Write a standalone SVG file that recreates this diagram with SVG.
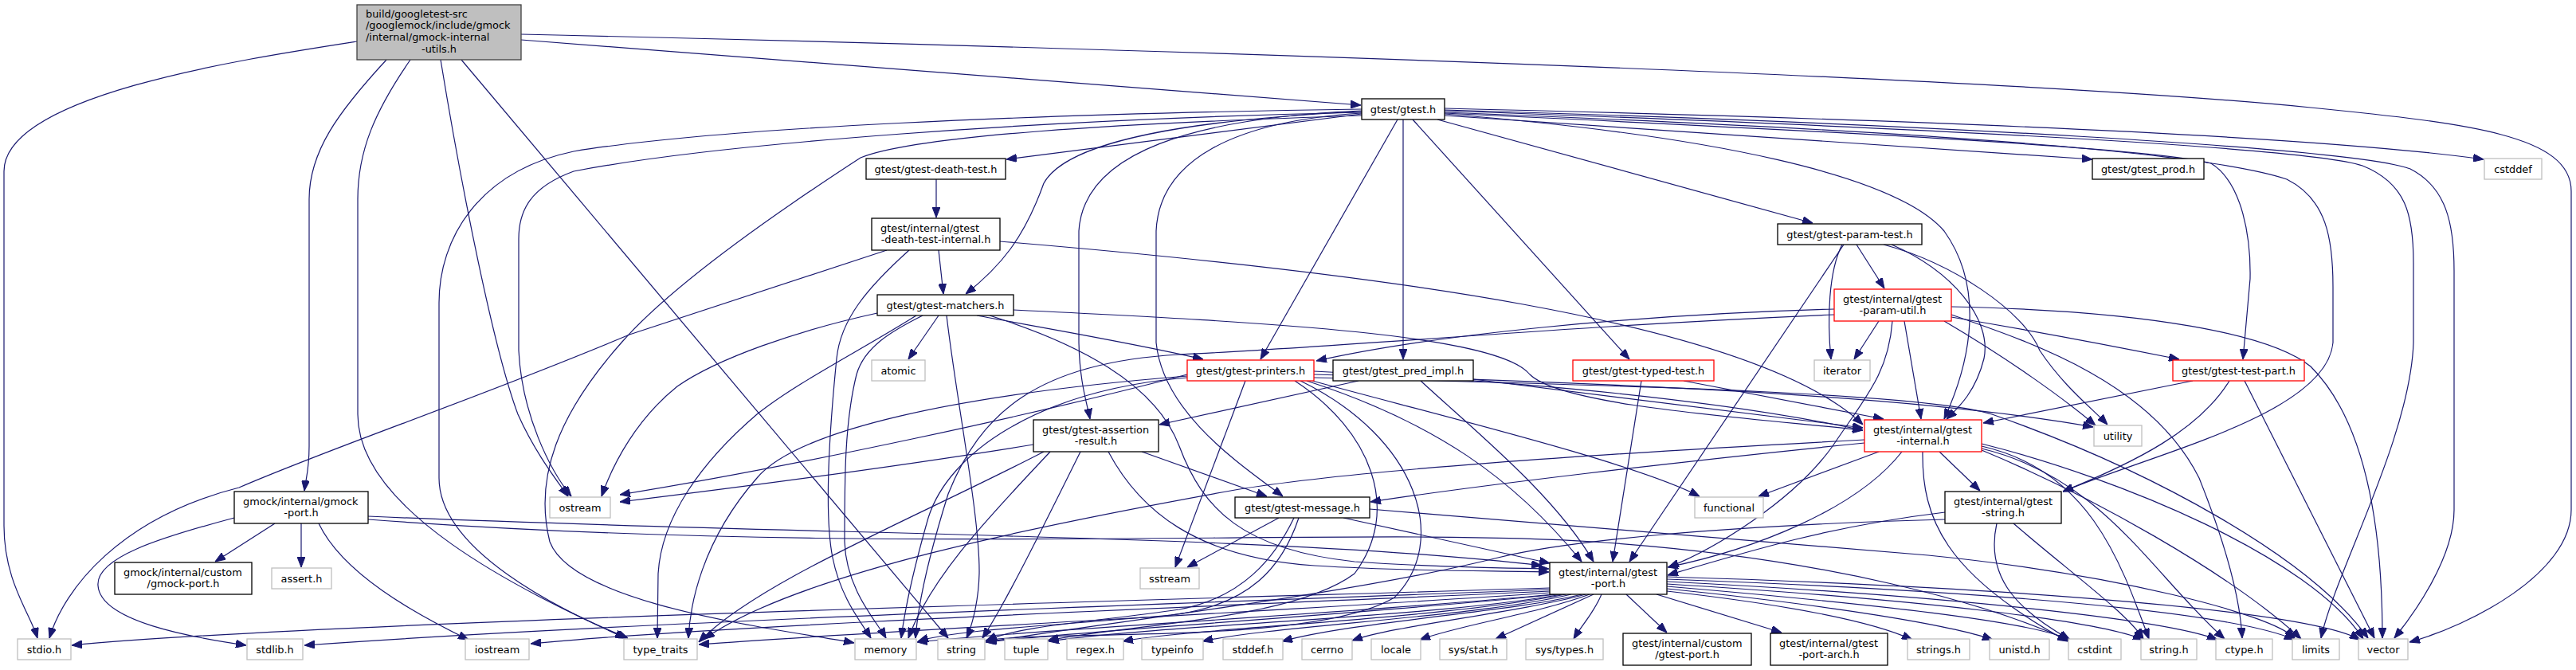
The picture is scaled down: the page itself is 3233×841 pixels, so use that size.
<svg xmlns="http://www.w3.org/2000/svg" width="3233" height="841" viewBox="0 0 3233 841">
<style>
text{font-family:"DejaVu Sans","Liberation Sans",sans-serif;font-size:12.9px;fill:#000}
.m{text-anchor:middle}
rect{fill:#fff;stroke:#000;stroke-width:1.3}
.g rect{stroke:#bfbfbf}
.r rect{stroke:#ff0000}
.k rect{fill:#bfbfbf;stroke:#404040}
.e path{fill:none;stroke:#191970;stroke-width:1.2;marker-end:url(#ah)}
</style>
<defs>
<marker id="ah" markerWidth="13" markerHeight="10" refX="13" refY="5" orient="auto" markerUnits="userSpaceOnUse">
<path d="M0,0 L13,5 L0,10 z" fill="#191970" stroke="#191970" stroke-width="1"/>
</marker>
</defs>
<rect x="0" y="0" width="3233" height="841" style="fill:#fff;stroke:none"/>
<g class="e" id="edges">
<path d="M448,52 C300,75 5,120 5,215 L5,660 C5,730 38,770 47,801"/>
<path d="M485,75 C425,140 388,190 388,250 L388,560 C388,590 384,600 382,616"/>
<path d="M515,75 C470,140 449,190 449,250 L449,520 C449,640 650,740 785,801"/>
<path d="M553,75 C580,240 620,440 650,520 C670,565 695,598 713,623"/>
<path d="M579,75 L1190,801"/>
<path d="M654,50 L1708,132"/>
<path d="M654,43 C1400,60 2500,95 2900,135 C3100,155 3227,170 3227,240 L3227,640 C3227,720 3100,785 3024,806"/>
<path d="M1709,143 L1263,200"/>
<path d="M1709,140 C1500,150 1340,175 1310,230 C1285,300 1255,335 1212,369"/>
<path d="M1709,137 C1300,143 900,160 720,190 C600,215 551,300 551,380 L551,600 C551,690 700,765 788,801"/>
<path d="M1709,141 C1300,150 900,180 720,215 C665,235 651,265 651,300 L651,440 C655,520 690,590 717,623"/>
<path d="M1709,145 C1400,155 1150,170 1080,198 C1000,250 850,350 780,430 C700,520 670,600 690,680 C720,760 980,790 1072,807"/>
<path d="M1754,150 L1582,451"/>
<path d="M1761,150 L1761,451"/>
<path d="M1773,150 L2045,451"/>
<path d="M1804,150 L2275,280"/>
<path d="M1709,139 C1500,148 1360,190 1354,290 L1354,430 C1355,480 1364,505 1368,526"/>
<path d="M1709,142 C1550,152 1455,200 1451,290 L1451,430 C1460,520 1560,585 1610,623"/>
<path d="M1813,143 C2150,170 2380,220 2440,290 C2490,360 2475,450 2440,526"/>
<path d="M1813,141 C2300,160 2750,185 2870,225 C2920,250 2928,300 2928,360 L2928,430 C2920,520 2700,570 2589,617"/>
<path d="M1813,142 C2300,165 2700,185 2775,205 C2815,230 2825,300 2824,350 L2815,451"/>
<path d="M1813,139 C2400,160 2900,185 2965,208 C3020,230 3029,270 3029,330 L3029,430 C3025,550 2930,720 2913,801"/>
<path d="M1813,138 C2400,155 2950,185 3025,212 C3070,235 3080,280 3080,340 L3080,640 C3080,700 3030,770 3005,801"/>
<path d="M1813,145 L2626,200"/>
<path d="M1813,136 C2400,150 2900,170 3117,200"/>
<path d="M1175,225 L1175,273"/>
<path d="M1178,314 L1184,369"/>
<path d="M1113,314 L790,420 C600,500 420,560 300,612 C150,650 80,740 62,801"/>
<path d="M1141,314 C1090,360 1055,400 1050,450 C1040,550 1035,650 1045,700 C1055,750 1080,780 1093,801"/>
<path d="M1255,303 C1700,340 2200,400 2338,533"/>
<path d="M1178,396 L1140,451"/>
<path d="M1158,396 C1120,415 1085,435 1075,470 C1060,530 1060,600 1060,680 C1062,740 1100,780 1112,801"/>
<path d="M1150,396 C1080,440 1000,480 950,520 C880,580 830,650 826,720 L825,801"/>
<path d="M1101,393 C1000,415 900,450 850,485 C800,525 770,580 755,623"/>
<path d="M1188,396 C1200,500 1230,650 1229,720 C1228,760 1218,790 1213,801"/>
<path d="M1226,396 C1300,410 1420,430 1510,451"/>
<path d="M1272,389 C1600,405 1880,420 1920,470 C1960,510 2200,525 2338,540"/>
<path d="M1242,396 C1350,430 1450,480 1480,560 C1510,640 1560,690 1700,705 C1800,712 1880,713 1944,714"/>
<path d="M1490,470 C1300,520 1000,585 778,621"/>
<path d="M1490,474 C1300,490 1190,570 1165,650 C1145,720 1135,770 1131,801"/>
<path d="M1490,472 C1200,495 1000,540 950,600 C880,680 866,760 864,801"/>
<path d="M1632,478 C1780,550 1820,680 1750,750 C1650,810 1320,790 1237,804"/>
<path d="M1625,478 C1720,540 1760,640 1700,720 C1620,780 1400,785 1315,804"/>
<path d="M1563,478 L1475,712"/>
<path d="M1647,478 C1800,520 2050,580 2133,623"/>
<path d="M1640,478 C1800,530 1900,600 1985,705"/>
<path d="M1649,470 C2000,480 2400,495 2627,536"/>
<path d="M1649,474 C2100,485 2420,495 2500,520 C2700,590 2900,700 2972,801"/>
<path d="M1649,466 C1900,478 2150,500 2338,540"/>
<path d="M1705,478 L1455,533"/>
<path d="M1783,478 C1850,540 1950,620 2000,705"/>
<path d="M1849,476 L2338,537"/>
<path d="M2060,478 L2024,705"/>
<path d="M2113,478 L2364,526"/>
<path d="M2330,307 L2365,362"/>
<path d="M2314,307 L2045,705"/>
<path d="M2312,307 C2295,340 2293,400 2298,451"/>
<path d="M2364,307 C2450,330 2540,390 2560,440 C2590,485 2625,512 2645,533"/>
<path d="M2374,307 C2450,340 2500,400 2490,450 C2480,490 2460,510 2443,526"/>
<path d="M2302,388 C2050,395 1800,420 1652,453"/>
<path d="M2302,395 C1950,410 1700,435 1480,445 C1300,455 1230,520 1190,620 C1165,700 1152,760 1149,801"/>
<path d="M2358,403 L2327,451"/>
<path d="M2390,403 L2411,526"/>
<path d="M2449,395 C2550,430 2700,480 2760,600 C2800,700 2812,760 2814,801"/>
<path d="M2449,398 C2550,415 2680,440 2735,451"/>
<path d="M2440,403 C2520,450 2590,500 2630,534"/>
<path d="M2449,385 C2700,390 2850,420 2900,460 C2980,540 2990,700 2990,801"/>
<path d="M2375,403 C2370,470 2340,500 2300,560 C2250,630 2150,690 2094,712"/>
<path d="M2752,478 L2489,531"/>
<path d="M2798,478 C2760,540 2680,580 2589,617"/>
<path d="M2817,478 L2980,801"/>
<path d="M1318,567 C1250,640 1170,720 1140,801"/>
<path d="M1310,567 C1150,650 950,730 877,806"/>
<path d="M1356,567 C1300,680 1260,760 1233,801"/>
<path d="M1297,558 C1100,590 900,615 778,630"/>
<path d="M1433,567 L1590,623"/>
<path d="M1391,567 C1430,640 1500,700 1650,710 C1780,718 1880,716 1944,718"/>
<path d="M1605,650 L1490,712"/>
<path d="M1719,639 L2420,697 C2650,720 2850,770 2880,801"/>
<path d="M1630,650 C1610,710 1570,760 1470,772 C1330,785 1200,790 1152,805"/>
<path d="M1624,650 C1600,700 1560,750 1480,765 C1380,780 1280,785 1238,804"/>
<path d="M1686,650 L1945,707"/>
<path d="M2340,556 C2100,580 1850,610 1720,630"/>
<path d="M2358,567 L2207,623"/>
<path d="M2387,567 C2330,640 2200,690 2093,712"/>
<path d="M2340,552 C2000,570 1700,590 1550,615 C1300,660 1000,720 884,802"/>
<path d="M2434,567 L2485,616"/>
<path d="M2413,567 C2412,650 2440,720 2595,805"/>
<path d="M2487,560 C2620,590 2660,700 2697,802"/>
<path d="M2487,563 C2640,600 2700,720 2792,802"/>
<path d="M2487,565 C2620,620 2800,720 2888,802"/>
<path d="M2487,557 C2660,600 2900,700 2966,802"/>
<path d="M2527,657 C2600,720 2670,770 2690,802"/>
<path d="M2506,657 C2490,730 2540,770 2598,803"/>
<path d="M2441,643 C2300,660 2200,690 2093,722"/>
<path d="M2441,652 C2150,660 1960,680 1880,700 C1700,745 1400,780 1237,806"/>
<path d="M1945,738 C1500,752 400,780 90,810"/>
<path d="M1945,740 C1500,757 800,780 382,810"/>
<path d="M1945,742 C1500,762 900,785 666,808"/>
<path d="M1945,744 C1600,768 1100,792 877,809"/>
<path d="M1950,746 C1700,770 1300,790 1151,806"/>
<path d="M1955,746 C1700,772 1350,792 1238,806"/>
<path d="M1960,746 C1800,775 1450,785 1316,805"/>
<path d="M1965,746 C1800,778 1500,788 1409,805"/>
<path d="M1972,746 C1850,775 1600,785 1509,805"/>
<path d="M1985,746 C1900,768 1700,780 1609,805"/>
<path d="M1990,746 C1900,770 1750,785 1697,804"/>
<path d="M1995,746 C1930,770 1830,785 1782,803"/>
<path d="M2000,746 L1877,802"/>
<path d="M2010,746 C2000,770 1985,785 1975,802"/>
<path d="M2041,746 L2092,794"/>
<path d="M2079,746 L2236,794"/>
<path d="M2092,742 C2250,760 2350,780 2400,803"/>
<path d="M2092,739 C2300,760 2450,785 2501,803"/>
<path d="M2092,736 C2350,758 2550,780 2597,803"/>
<path d="M2092,733 C2400,752 2630,778 2690,803"/>
<path d="M2092,730 C2450,748 2720,778 2783,803"/>
<path d="M2092,727 C2500,742 2800,768 2880,803"/>
<path d="M2092,724 C2550,738 2900,768 2962,803"/>
<path d="M345,657 L270,705"/>
<path d="M378,657 L378,712"/>
<path d="M294,650 C200,675 120,700 123,735 C126,780 240,800 309,810"/>
<path d="M400,657 C430,720 520,770 588,803"/>
<path d="M462,648 C1000,672 1600,670 1935,710"/>
<path d="M462,652 C1100,700 1700,660 2000,680 C2300,700 2500,760 2597,804"/>
</g>
<g id="n_main" class="k"><rect x="448" y="6" width="206" height="69"/><text x="459" y="21.5">build/googletest-src</text><text x="459" y="36.2">/googlemock/include/gmock</text><text x="459" y="50.9">/internal/gmock-internal</text><text class="m" x="551" y="65.6">-utils.h</text></g>
<g id="n_gtest"><rect x="1709" y="124" width="104" height="26"/><text class="m" x="1761" y="141.5">gtest/gtest.h</text></g>
<g id="n_deathtest"><rect x="1087" y="199" width="175" height="26"/><text class="m" x="1174.5" y="216.5">gtest/gtest-death-test.h</text></g>
<g id="n_dti"><rect x="1094" y="274" width="161" height="40"/><text x="1105" y="290.5">gtest/internal/gtest</text><text class="m" x="1174.5" y="305.3">-death-test-internal.h</text></g>
<g id="n_matchers"><rect x="1101" y="370" width="171" height="26"/><text class="m" x="1186.5" y="387.5">gtest/gtest-matchers.h</text></g>
<g id="n_paramtest"><rect x="2231" y="281" width="181" height="26"/><text class="m" x="2321.5" y="298.5">gtest/gtest-param-test.h</text></g>
<g id="n_paramutil" class="r"><rect x="2302" y="363" width="147" height="40"/><text x="2313" y="379.5">gtest/internal/gtest</text><text class="m" x="2375.5" y="394.3">-param-util.h</text></g>
<g id="n_prod"><rect x="2626" y="199" width="140" height="26"/><text class="m" x="2696" y="216.5">gtest/gtest_prod.h</text></g>
<g id="n_cstddef" class="g"><rect x="3118" y="199" width="72" height="26"/><text class="m" x="3154" y="216.5">cstddef</text></g>
<g id="n_gmockport"><rect x="294" y="617" width="168" height="40"/><text x="305" y="633.5">gmock/internal/gmock</text><text class="m" x="378" y="648.3">-port.h</text></g>
<g id="n_gmockcustom"><rect x="144" y="706" width="172" height="40"/><text x="155" y="722.5">gmock/internal/custom</text><text class="m" x="230" y="737.3">/gmock-port.h</text></g>
<g id="n_assert" class="g"><rect x="341" y="713" width="75" height="26"/><text class="m" x="378.5" y="730.5">assert.h</text></g>
<g id="n_ostream" class="g"><rect x="690" y="624" width="76" height="26"/><text class="m" x="728" y="641.5">ostream</text></g>
<g id="n_atomic" class="g"><rect x="1094" y="452" width="67" height="26"/><text class="m" x="1127.5" y="469.5">atomic</text></g>
<g id="n_printers" class="r"><rect x="1490" y="452" width="159" height="26"/><text class="m" x="1569.5" y="469.5">gtest/gtest-printers.h</text></g>
<g id="n_predimpl"><rect x="1673" y="452" width="176" height="26"/><text class="m" x="1761" y="469.5">gtest/gtest_pred_impl.h</text></g>
<g id="n_typedtest" class="r"><rect x="1974" y="452" width="177" height="26"/><text class="m" x="2062.5" y="469.5">gtest/gtest-typed-test.h</text></g>
<g id="n_iterator" class="g"><rect x="2277" y="452" width="70" height="26"/><text class="m" x="2312" y="469.5">iterator</text></g>
<g id="n_testpart" class="r"><rect x="2727" y="452" width="165" height="26"/><text class="m" x="2809.5" y="469.5">gtest/gtest-test-part.h</text></g>
<g id="n_assertion"><rect x="1297" y="527" width="157" height="40"/><text x="1308" y="543.5">gtest/gtest-assertion</text><text class="m" x="1375.5" y="558.3">-result.h</text></g>
<g id="n_internal" class="r"><rect x="2340" y="527" width="147" height="40"/><text x="2351" y="543.5">gtest/internal/gtest</text><text class="m" x="2413.5" y="558.3">-internal.h</text></g>
<g id="n_utility" class="g"><rect x="2628" y="534" width="60" height="26"/><text class="m" x="2658" y="551.5">utility</text></g>
<g id="n_message"><rect x="1550" y="624" width="169" height="26"/><text class="m" x="1634.5" y="641.5">gtest/gtest-message.h</text></g>
<g id="n_functional" class="g"><rect x="2127" y="624" width="86" height="26"/><text class="m" x="2170" y="641.5">functional</text></g>
<g id="n_gtstring"><rect x="2441" y="617" width="146" height="40"/><text x="2452" y="633.5">gtest/internal/gtest</text><text class="m" x="2514" y="648.3">-string.h</text></g>
<g id="n_sstream" class="g"><rect x="1431" y="713" width="74" height="26"/><text class="m" x="1468" y="730.5">sstream</text></g>
<g id="n_port"><rect x="1945" y="706" width="147" height="40"/><text x="1956" y="722.5">gtest/internal/gtest</text><text class="m" x="2018.5" y="737.3">-port.h</text></g>
<g id="n_gtcustom"><rect x="2037" y="795" width="161" height="40"/><text x="2048" y="811.5">gtest/internal/custom</text><text class="m" x="2117.5" y="826.3">/gtest-port.h</text></g>
<g id="n_portarch"><rect x="2222" y="795" width="147" height="40"/><text x="2233" y="811.5">gtest/internal/gtest</text><text class="m" x="2295.5" y="826.3">-port-arch.h</text></g>
<g id="n_stdio" class="g"><rect x="22" y="802" width="67" height="26"/><text class="m" x="55.5" y="819.5">stdio.h</text></g>
<g id="n_stdlib" class="g"><rect x="310" y="802" width="70" height="26"/><text class="m" x="345" y="819.5">stdlib.h</text></g>
<g id="n_iostream" class="g"><rect x="584" y="802" width="80" height="26"/><text class="m" x="624" y="819.5">iostream</text></g>
<g id="n_typetraits" class="g"><rect x="783" y="802" width="92" height="26"/><text class="m" x="829" y="819.5">type_traits</text></g>
<g id="n_memory" class="g"><rect x="1073" y="802" width="77" height="26"/><text class="m" x="1111.5" y="819.5">memory</text></g>
<g id="n_string" class="g"><rect x="1177" y="802" width="59" height="26"/><text class="m" x="1206.5" y="819.5">string</text></g>
<g id="n_tuple" class="g"><rect x="1261" y="802" width="54" height="26"/><text class="m" x="1288" y="819.5">tuple</text></g>
<g id="n_regex" class="g"><rect x="1339" y="802" width="71" height="26"/><text class="m" x="1374.5" y="819.5">regex.h</text></g>
<g id="n_typeinfo" class="g"><rect x="1433" y="802" width="77" height="26"/><text class="m" x="1471.5" y="819.5">typeinfo</text></g>
<g id="n_stddef" class="g"><rect x="1535" y="802" width="75" height="26"/><text class="m" x="1572.5" y="819.5">stddef.h</text></g>
<g id="n_cerrno" class="g"><rect x="1634" y="802" width="63" height="26"/><text class="m" x="1665.5" y="819.5">cerrno</text></g>
<g id="n_locale" class="g"><rect x="1721" y="802" width="62" height="26"/><text class="m" x="1752" y="819.5">locale</text></g>
<g id="n_sysstat" class="g"><rect x="1807" y="802" width="84" height="26"/><text class="m" x="1849" y="819.5">sys/stat.h</text></g>
<g id="n_systypes" class="g"><rect x="1915" y="802" width="97" height="26"/><text class="m" x="1963.5" y="819.5">sys/types.h</text></g>
<g id="n_strings" class="g"><rect x="2394" y="802" width="78" height="26"/><text class="m" x="2433" y="819.5">strings.h</text></g>
<g id="n_unistd" class="g"><rect x="2497" y="802" width="75" height="26"/><text class="m" x="2534.5" y="819.5">unistd.h</text></g>
<g id="n_cstdint" class="g"><rect x="2596" y="802" width="66" height="26"/><text class="m" x="2629" y="819.5">cstdint</text></g>
<g id="n_stringh" class="g"><rect x="2687" y="802" width="70" height="26"/><text class="m" x="2722" y="819.5">string.h</text></g>
<g id="n_ctype" class="g"><rect x="2781" y="802" width="71" height="26"/><text class="m" x="2816.5" y="819.5">ctype.h</text></g>
<g id="n_limits" class="g"><rect x="2877" y="802" width="59" height="26"/><text class="m" x="2906.5" y="819.5">limits</text></g>
<g id="n_vector" class="g"><rect x="2960" y="802" width="62" height="26"/><text class="m" x="2991" y="819.5">vector</text></g>
</svg>
